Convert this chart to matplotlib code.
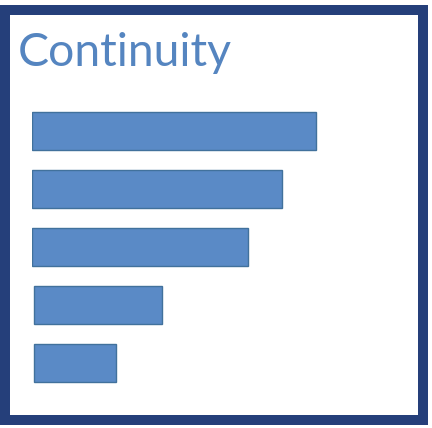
import matplotlib
matplotlib.use('Agg')
import matplotlib.pyplot as plt
from matplotlib.patches import Rectangle

# bar lengths (in pixels of the original slide) and their small left offsets
labels = ['a', 'b', 'c', 'd', 'e']
values = [284, 250, 216, 128, 82]
starts = [0, 0, 0, 2, 2]
title = 'Continuity'

fig = plt.figure(figsize=(4.32, 4.28), dpi=100)
fig.patch.set_facecolor('white')

# frame around the whole thing
frame_ax = fig.add_axes([0, 0, 1, 1])
frame_ax.set_xlim(0, 432)
frame_ax.set_ylim(428, 0)
frame_ax.axis('off')
frame_ax.add_patch(Rectangle((5, 10), 418, 410, fill=False,
                             edgecolor='#253f7a', linewidth=7.2))
frame_ax.text(18, 66, title, fontsize=33.4, color='#5585c0',
              family='Lato', va='baseline', ha='left')

# bars
ax = fig.add_axes([32 / 432, 1 - 392 / 428, 400 / 432, 290 / 428])
ax.barh(range(len(values)), values, left=starts, height=0.67,
        color='#5a8ac6', edgecolor='#41719c', linewidth=1.0)
ax.set_xlim(0, 400)
ax.set_ylim(len(values) - 0.5, -0.5)
ax.axis('off')

fig.savefig('out.png', dpi=100)
